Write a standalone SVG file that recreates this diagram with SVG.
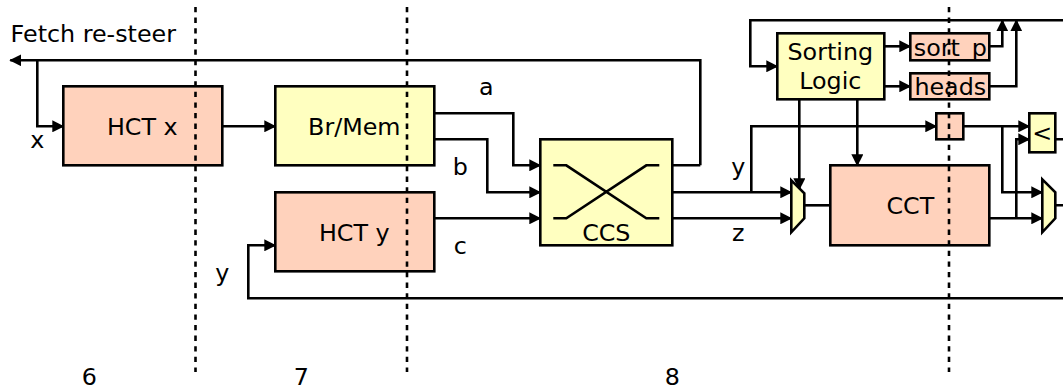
<svg xmlns="http://www.w3.org/2000/svg" width="1063" height="389" viewBox="0 0 1063 389">
<style>
.o{fill:#ffd2bc;stroke:#000;stroke-width:2.6}
.y{fill:#ffffc0;stroke:#000;stroke-width:2.6}
.w{fill:none;stroke:#000;stroke-width:2.6}
.a{fill:none;stroke:#000;stroke-width:2.6;marker-end:url(#h)}
.d{fill:none;stroke:#000;stroke-width:2.6;stroke-dasharray:5.3 5.3}
text{font-family:"DejaVu Sans",sans-serif;font-size:23.8px;fill:#000;text-anchor:middle}
</style>
<defs>
<marker id="h" markerUnits="userSpaceOnUse" markerWidth="12" markerHeight="12" refX="11" refY="6" orient="auto"><path d="M0 0L12 6L0 12Z" fill="#000"/></marker>
</defs>
<g transform="translate(0.3 0.3)">
<g id="connectors">
<path class="a" d="M700 165H672M700 165V60H10"/>
<path class="a" d="M37 60V126H63"/>
<path class="a" d="M222 126H275"/>
<path class="a" d="M434 113H513V165H540"/>
<path class="a" d="M434 139H487V192H540"/>
<path class="a" d="M434 218H540"/>
<path class="a" d="M672 192H791"/>
<path class="a" d="M672 218H791"/>
<path class="a" d="M751 192V126H936"/>
<path class="a" d="M1063 20H750V66H777"/>
<path class="a" d="M884 46H910"/>
<path class="a" d="M884 86H910"/>
<path class="a" d="M989 46H1002V20"/>
<path class="a" d="M989 86H1016V20"/>
<path class="a" d="M799 99V189"/>
<path class="a" d="M857 99V165"/>
<path class="w" d="M804 205H830"/>
<path class="a" d="M963 126H1029"/>
<path class="a" d="M1002 126V192H1042"/>
<path class="a" d="M989 218H1042"/>
<path class="a" d="M1016 218V139H1029"/>
<path class="w" d="M1055 139H1063M1055 205H1063"/>
<path class="a" d="M1063 298H248V245H275"/>
</g>
<g id="hct-x"><rect class="o" x="63" y="86" width="159" height="79"/><text x="142" y="135">HCT x</text></g>
<g id="br-mem"><rect class="y" x="275" y="86" width="159" height="79"/><text x="354" y="135">Br/Mem</text></g>
<g id="hct-y"><rect class="o" x="275" y="192" width="159" height="79"/><text x="354" y="241">HCT y</text></g>
<g id="ccs"><rect class="y" x="540" y="139" width="132" height="106"/><path class="w" d="M553 165H566L646 218H659M553 218H566L646 165H659"/><text x="606" y="241">CCS</text></g>
<g id="cct"><rect class="o" x="830" y="165" width="159" height="80"/><text x="910" y="214">CCT</text></g>
<g id="sorting-logic"><rect class="y" x="777" y="33" width="107" height="66"/><text x="830" y="60">Sorting</text><text x="830" y="89">Logic</text></g>
<g id="sort-p"><rect class="o" x="910" y="33" width="79" height="27"/><text x="950" y="55.700">sort_p</text></g>
<g id="heads"><rect class="o" x="910" y="73" width="79" height="26"/><text x="950" y="95">heads</text></g>
<g id="reg"><rect class="o" x="936" y="113" width="27" height="26"/></g>
<g id="lt"><rect class="y" x="1029" y="113" width="26" height="39"/><text x="1042" y="141">&lt;</text></g>
<g id="mux-1"><path class="y" d="M791 180L804 193V218L791 232Z"/></g>
<g id="mux-2"><path class="y" d="M1042 179L1055 192V218L1042 232Z"/></g>
<g id="labels">
<text x="93" y="42">Fetch re-steer</text>
<text x="37" y="148">x</text>
<text x="486" y="95">a</text>
<text x="460" y="175">b</text>
<text x="460" y="254">c</text>
<text x="738" y="175">y</text>
<text x="738" y="241">z</text>
<text x="222" y="281">y</text>
<text x="89" y="384.700">6</text>
<text x="301" y="384.700">7</text>
<text x="672" y="384.700">8</text>
</g>
</g>
<g id="stage-lines">
<path class="d" d="M195.500 7V372"/>
<path class="d" d="M407 7V372"/>
<path class="d" d="M949 7V372"/>
</g>
</svg>
